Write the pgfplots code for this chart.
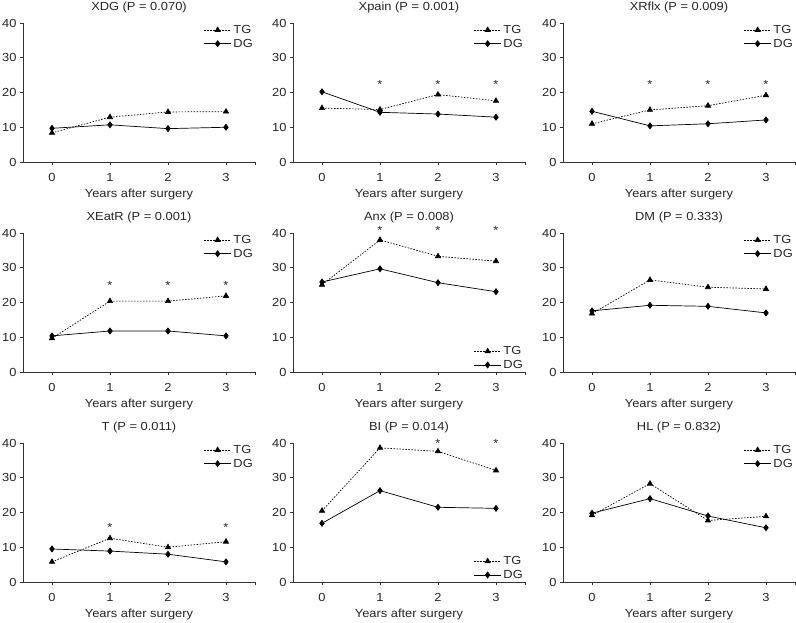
\documentclass[border=0pt]{standalone}
\usepackage{fontspec}
\setmainfont{Liberation Sans}[FakeStretch=1.1]
\usepackage{pgfplots}
\pgfplotsset{compat=1.18}

\newcommand{\fs}{\fontsize{11.7}{14}\selectfont}

\pgfplotsset{
  panel/.style={
    scale only axis, width=232pt, height=139pt,
    xmin=-0.5, xmax=3.5, ymin=0, ymax=40,
    xtick={0,1,2,3}, ytick={0,10,20,30,40},
    extra x ticks={3.5}, extra x tick labels={},
    axis lines=left, axis line style={-, black!80, line width=0.8pt},
    tick align=outside, major tick length=3pt,
    tick style={black!80, line width=0.8pt},
    /pgf/number format/assume math mode=true,
    tick label style={font=\fs, text=black!85},
    xticklabel style={yshift=-5pt},
    xlabel={Years after surgery},
    xlabel style={font=\fs, text=black!85, at={(axis description cs:0.5,0)}, anchor=center, yshift=-32pt},
    title style={font=\fs, text=black!85, at={(0.5,1)}, anchor=center, yshift=10pt},
    clip=false,
    legend cell align=left,
    legend style={draw=none, fill=none, font=\fs, text=black!85, inner sep=0pt, row sep=0pt,
      at={(1,1)}, anchor=north east},
    legend image code/.code={
      \draw[mark repeat=2, mark phase=2, #1] plot coordinates {(0pt,0pt) (13.5pt,0pt) (27pt,0pt)};
    },
  },
  lowleg/.style={legend style={at={(1,0)}, anchor=south east}},
  tg/.style={black, line width=0.7pt, dash pattern=on 1.5pt off 1.5pt,
    mark=triangle*, mark size=3pt, mark options={solid}},
  dg/.style={black, line width=0.7pt, mark=diamond*, mark size=3pt, mark options={solid}},
  star/.style={only marks, forget plot, mark=text, text mark={\fs\color{black!85}*}},
}

\begin{document}
\begin{tikzpicture}

% row 1
\begin{axis}[panel, at={(23pt,-162pt)}, title={XDG (P = 0.070)}]
\addplot[tg] coordinates {(0,8.4)(1,12.9)(2,14.4)(3,14.5)};
\addplot[dg] coordinates {(0,9.7)(1,10.7)(2,9.6)(3,10.0)};
\legend{TG,DG}
\end{axis}

\begin{axis}[panel, at={(293pt,-162pt)}, title={Xpain (P = 0.001)}]
\addplot[tg] coordinates {(0,15.5)(1,15.1)(2,19.4)(3,17.6)};
\addplot[dg] coordinates {(0,20.2)(1,14.3)(2,13.8)(3,12.9)};
\addplot[star] coordinates {(1,22.4)(2,22.4)(3,22.4)};
\legend{TG,DG}
\end{axis}

\begin{axis}[panel, at={(563pt,-162pt)}, title={XRflx (P = 0.009)}]
\addplot[tg] coordinates {(0,11.0)(1,15.0)(2,16.2)(3,19.2)};
\addplot[dg] coordinates {(0,14.6)(1,10.4)(2,11.0)(3,12.1)};
\addplot[star] coordinates {(1,22.2)(2,22.2)(3,22.2)};
\legend{TG,DG}
\end{axis}

% row 2
\begin{axis}[panel, at={(23pt,-372pt)}, title={XEatR (P = 0.001)}]
\addplot[tg] coordinates {(0,9.7)(1,20.4)(2,20.4)(3,21.9)};
\addplot[dg] coordinates {(0,10.4)(1,11.8)(2,11.8)(3,10.4)};
\addplot[star] coordinates {(1,24.8)(2,24.8)(3,24.8)};
\legend{TG,DG}
\end{axis}

\begin{axis}[panel, lowleg, at={(293pt,-372pt)}, title={Anx (P = 0.008)}]
\addplot[tg] coordinates {(0,25.1)(1,38.0)(2,33.3)(3,31.9)};
\addplot[dg] coordinates {(0,25.9)(1,29.7)(2,25.7)(3,23.1)};
\addplot[star] coordinates {(1,40.6)(2,40.6)(3,40.6)};
\legend{TG,DG}
\end{axis}

\begin{axis}[panel, at={(563pt,-372pt)}, title={DM (P = 0.333)}]
\addplot[tg] coordinates {(0,16.8)(1,26.5)(2,24.4)(3,23.9)};
\addplot[dg] coordinates {(0,17.6)(1,19.2)(2,18.9)(3,17.0)};
\legend{TG,DG}
\end{axis}

% row 3
\begin{axis}[panel, at={(23pt,-582pt)}, title={T (P = 0.011)}]
\addplot[tg] coordinates {(0,5.8)(1,12.6)(2,10.0)(3,11.6)};
\addplot[dg] coordinates {(0,9.5)(1,8.9)(2,8.0)(3,5.8)};
\addplot[star] coordinates {(1,15.6)(3,15.6)};
\legend{TG,DG}
\end{axis}

\begin{axis}[panel, lowleg, at={(293pt,-582pt)}, title={BI (P = 0.014)}]
\addplot[tg] coordinates {(0,20.5)(1,38.6)(2,37.6)(3,32.1)};
\addplot[dg] coordinates {(0,16.9)(1,26.3)(2,21.5)(3,21.2)};
\addplot[star] coordinates {(2,40.0)(3,40.0)};
\legend{TG,DG}
\end{axis}

\begin{axis}[panel, at={(563pt,-582pt)}, title={HL (P = 0.832)}]
\addplot[tg] coordinates {(0,19.2)(1,28.3)(2,17.7)(3,18.9)};
\addplot[dg] coordinates {(0,19.8)(1,24.0)(2,19.0)(3,15.6)};
\legend{TG,DG}
\end{axis}

\pgfresetboundingbox
\path[use as bounding box] (0pt,0pt) rectangle (796pt,-623pt);
\end{tikzpicture}
\end{document}
